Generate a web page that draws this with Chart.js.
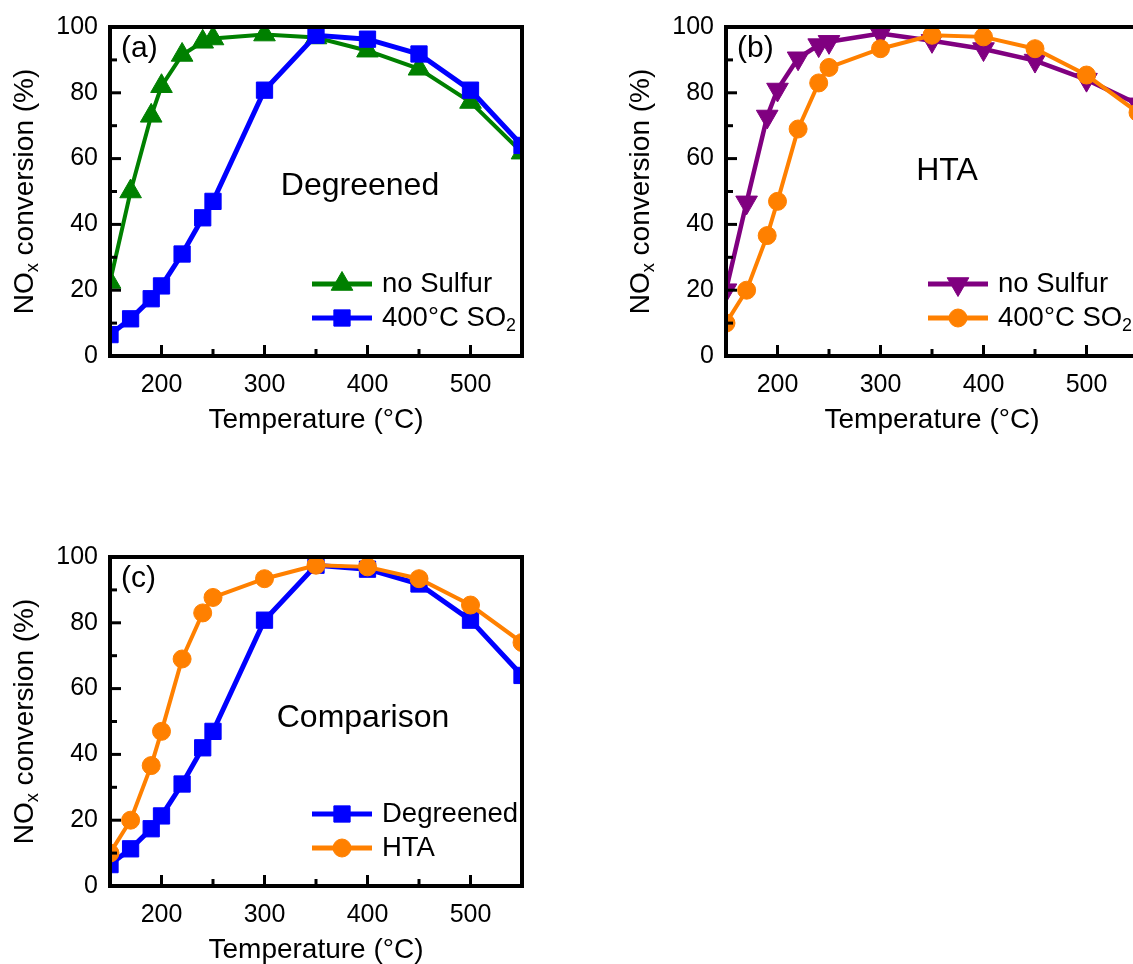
<!DOCTYPE html>
<html>
<head>
<meta charset="utf-8">
<script src="https://cdn.jsdelivr.net/npm/chart.js@4.4.1/dist/chart.umd.min.js"></script>
<style>
  html, body { margin: 0; padding: 0; background: #fff; width: 1133px; height: 964px; overflow: hidden; position: relative; }
  canvas { position: absolute; }
</style>
</head>
<body>
<canvas id="chart-a" width="560" height="450" style="left:0;top:0"></canvas>
<canvas id="chart-b" width="560" height="450" style="left:616px;top:0"></canvas>
<canvas id="chart-c" width="560" height="450" style="left:0;top:530px"></canvas>
<script>
// DATA
const temps = [150, 170, 190, 200, 220, 240, 250, 300, 350, 400, 450, 500, 550];
const degNoSulfur = [22.5, 50, 73, 82, 91.5, 95.5, 96.5, 97.7, 96.8, 92.8, 87.3, 77.2, 61.8];
const degSO2 = [6.5, 11.3, 17.4, 21.3, 31, 42, 47, 80.8, 97.5, 96.3, 91.8, 80.8, 64];
const htaNoSulfur = [20, 46.7, 72.8, 81, 90.5, 94.5, 95.5, 98, 95.8, 93.3, 89.8, 84, 76.5];
const htaSO2 = [10, 20, 36.6, 47, 69, 83, 87.7, 93.4, 97.5, 97, 93.4, 85.4, 74];

const xMin = 150, xMax = 550, xStep = 50, xLabelEvery = 100;
const yMin = 0, yMax = 100, yStep = 10, yLabelEvery = 20;

const FONT = "'Liberation Sans', Arial, Helvetica, sans-serif";
Chart.defaults.font.family = FONT;
Chart.defaults.color = '#000';

const GREEN = 'rgb(0,128,0)', BLUE = 'rgb(0,0,255)', PURPLE = 'rgb(128,0,128)', ORANGE = 'rgb(255,128,0)';

// draws "NO" + subscript etc. parts = [[text, isSub], ...]
function richText(ctx, parts, x, y, size, align) {
  let total = 0;
  const widths = parts.map(([t, sub]) => {
    ctx.font = (sub ? size * 0.65 : size) + 'px ' + FONT;
    const w = ctx.measureText(t).width;
    total += w;
    return w;
  });
  let cx = align === 'center' ? x - total / 2 : x;
  ctx.textAlign = 'left';
  ctx.textBaseline = 'middle';
  parts.forEach(([t, sub], i) => {
    ctx.font = (sub ? size * 0.65 : size) + 'px ' + FONT;
    ctx.fillText(t, cx, sub ? y + size * 0.3 : y);
    cx += widths[i];
  });
}

function drawMarker(ctx, s, x, y) {
  const opts = { pointStyle: s.marker, radius: s.radius, rotation: s.rotation || 0, borderWidth: 1 };
  ctx.lineWidth = 1;
  if (Chart.helpers && Chart.helpers.drawPoint) {
    Chart.helpers.drawPoint(ctx, opts, x, y);
  } else {
    ctx.beginPath(); ctx.arc(x, y, s.radius, 0, Math.PI * 2); ctx.fill();
  }
}

// frame + inward ticks, taken from the library's own scales
const framePlugin = {
  id: 'frame',
  afterDatasetsDraw(chart) {
    const { ctx, chartArea: a, scales: { x, y } } = chart;
    ctx.save();
    ctx.strokeStyle = '#000';
    ctx.lineWidth = 3;
    x.ticks.forEach(t => {
      if (t.value <= xMin || t.value >= xMax) return;
      const px = x.getPixelForValue(t.value);
      const len = t.value % xLabelEvery === 0 ? 11 : 7;
      ctx.beginPath(); ctx.moveTo(px, a.bottom); ctx.lineTo(px, a.bottom - len); ctx.stroke();
    });
    y.ticks.forEach(t => {
      if (t.value <= yMin || t.value >= yMax) return;
      const py = y.getPixelForValue(t.value);
      const len = t.value % yLabelEvery === 0 ? 11 : 7;
      ctx.beginPath(); ctx.moveTo(a.left, py); ctx.lineTo(a.left + len, py); ctx.stroke();
    });
    ctx.lineWidth = 4;
    ctx.strokeRect(a.left, a.top, a.right - a.left, a.bottom - a.top);
    ctx.restore();
  }
};

function makePanel(canvasId, tag, note, series) {
  const textPlugin = {
    id: 'panelText',
    afterDraw(chart) {
      const { ctx, chartArea: a } = chart;
      ctx.save();
      ctx.fillStyle = '#000';
      // y title
      ctx.save();
      ctx.translate(25, (a.top + a.bottom) / 2);
      ctx.rotate(-Math.PI / 2);
      richText(ctx, [['NO', false], ['x', true], [' conversion (%)', false]], 0, 0, 28, 'center');
      ctx.restore();
      // panel tag and note
      richText(ctx, [[tag, false]], a.left + 11, 49, 30, 'left');
      richText(ctx, [[note.text, false]], note.x, note.y, 32, 'center');
      // legend
      series.forEach((s, i) => {
        const ly = 284 + i * 34;
        ctx.strokeStyle = s.color;
        ctx.fillStyle = s.color;
        ctx.lineWidth = 5;
        ctx.beginPath(); ctx.moveTo(312, ly); ctx.lineTo(372, ly); ctx.stroke();
        drawMarker(ctx, s, 342, ly);
        ctx.fillStyle = '#000';
        richText(ctx, s.label, 382, ly, 27.5, 'left');
      });
      ctx.restore();
    }
  };

  new Chart(document.getElementById(canvasId), {
    type: 'line',
    data: {
      datasets: series.map((s, i) => ({
        data: temps.map((t, k) => ({ x: t, y: s.values[k] })),
        borderColor: s.color,
        backgroundColor: s.color,
        borderWidth: s.lineWidth,
        pointStyle: s.marker,
        pointRadius: s.radius,
        pointHoverRadius: s.radius,
        pointRotation: s.rotation || 0,
        pointBorderWidth: 1,
        tension: 0,
        clip: 0,
        order: series.length - i
      }))
    },
    options: {
      responsive: false,
      animation: false,
      events: [],
      layout: { padding: { top: 24, right: 38, left: 0, bottom: 0 } },
      plugins: { legend: { display: false }, tooltip: { enabled: false } },
      scales: {
        x: {
          type: 'linear', min: xMin, max: xMax,
          grid: { display: false, drawTicks: false },
          border: { display: false },
          ticks: {
            stepSize: xStep, autoSkip: false, maxRotation: 0, padding: 14,
            font: { size: 25 },
            callback: v => v % xLabelEvery === 0 ? v : ''
          },
          title: { display: true, text: 'Temperature (°C)', font: { size: 28 }, padding: { top: 0, bottom: 13 } },
          afterFit: s => { s.height = 94; }
        },
        y: {
          min: yMin, max: yMax,
          grid: { display: false, drawTicks: false },
          border: { display: false },
          ticks: {
            stepSize: yStep, autoSkip: false, padding: 12,
            font: { size: 25 },
            callback: v => v % yLabelEvery === 0 ? v : ''
          },
          afterFit: s => { s.width = 110; }
        }
      }
    },
    plugins: [framePlugin, textPlugin]
  });
}

const so2Label = [['400°C SO', false], ['2', true]];

makePanel('chart-a', '(a)', { text: 'Degreened', x: 360, y: 186 }, [
  { label: [['no Sulfur', false]], values: degNoSulfur, color: GREEN, marker: 'triangle', radius: 12.5, lineWidth: 4 },
  { label: so2Label, values: degSO2, color: BLUE, marker: 'rect', radius: 11.5, lineWidth: 5 }
]);

makePanel('chart-b', '(b)', { text: 'HTA', x: 331, y: 171 }, [
  { label: [['no Sulfur', false]], values: htaNoSulfur, color: PURPLE, marker: 'triangle', rotation: 180, radius: 12.5, lineWidth: 4.5 },
  { label: so2Label, values: htaSO2, color: ORANGE, marker: 'circle', radius: 9, lineWidth: 4 }
]);

makePanel('chart-c', '(c)', { text: 'Comparison', x: 363, y: 188 }, [
  { label: [['Degreened', false]], values: degSO2, color: BLUE, marker: 'rect', radius: 11.5, lineWidth: 5 },
  { label: [['HTA', false]], values: htaSO2, color: ORANGE, marker: 'circle', radius: 9, lineWidth: 4 }
]);
</script>
</body>
</html>
